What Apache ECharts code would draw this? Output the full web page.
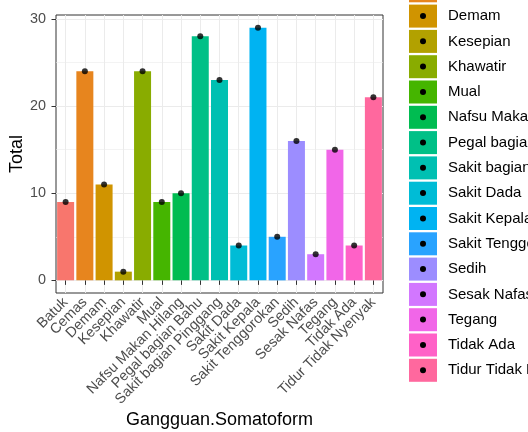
<!DOCTYPE html>
<html>
<head>
<meta charset="utf-8">
<script src="https://cdn.jsdelivr.net/npm/echarts@6/dist/echarts.min.js"></script>
<style>
  html, body { margin: 0; padding: 0; background: #fff; }
  #chart { width: 528px; height: 432px; }
</style>
</head>
<body>
<div id="chart"></div>
<script>
// data
const categories = ['Batuk', 'Cemas', 'Demam', 'Kesepian', 'Khawatir', 'Mual',
    'Nafsu Makan Hilang', 'Pegal bagian Bahu', 'Sakit bagian Pinggang', 'Sakit Dada',
    'Sakit Kepala', 'Sakit Tenggorokan', 'Sedih', 'Sesak Nafas', 'Tegang', 'Tidak Ada',
    'Tidur Tidak Nyenyak'];
const totals = [9, 24, 11, 1, 24, 9, 10, 28, 23, 4, 29, 5, 16, 3, 15, 4, 21];
const yTicks = [0, 10, 20, 30];
const yMinor = [5, 15, 25];

// ggplot default hue palette (hcl, c=100, l=65)
function hcl(h, c, l) {
    const d = Math.PI / 180;
    const U = c * Math.cos(h * d), V = c * Math.sin(h * d);
    const Xn = 95.047, Yn = 100, Zn = 108.883;
    const Y = l > 8 ? Yn * Math.pow((l + 16) / 116, 3) : Yn * l / 903.3;
    const den = Xn + 15 * Yn + 3 * Zn;
    const up = U / (13 * l) + 4 * Xn / den, vp = V / (13 * l) + 9 * Yn / den;
    const X = 9 * Y * up / (4 * vp);
    const Z = -X / 3 - 5 * Y + 3 * Y / vp;
    const x = X / 100, y = Y / 100, z = Z / 100;
    const lin = [
        3.240479 * x - 1.537150 * y - 0.498535 * z,
        -0.969256 * x + 1.875992 * y + 0.041556 * z,
        0.055648 * x - 0.204043 * y + 1.057311 * z
    ];
    return '#' + lin.map(function (v) {
        v = v <= 0.0031308 ? 12.92 * v : 1.055 * Math.pow(v, 1 / 2.4) - 0.055;
        v = Math.round(Math.max(0, Math.min(1, v)) * 255);
        return (v < 16 ? '0' : '') + v.toString(16);
    }).join('');
}
const n = categories.length;
const palette = categories.map((c, i) => hcl(15 + 360 * i / n, 100, 65));

const FONT = 'Liberation Sans';
const GRID_COL = '#EBEBEB';

let series = categories.map(function (name, i) {
    return {
        type: 'bar',
        name: name,
        stack: 'total',
        barWidth: 17,
        itemStyle: {color: palette[i]},
        data: categories.map((c, j) => j === i ? totals[i] : '-')
    };
});

// grid lines (ggplot style: at category centres, plus minor ones)
let gridLines = categories.map(c => ({xAxis: c, lineStyle: {width: 1}}))
    .concat(yTicks.map(v => ({yAxis: v, lineStyle: {width: 1}})))
    .concat(yMinor.map(v => ({yAxis: v, lineStyle: {width: 0.6}})));

series.push({
    type: 'line',
    name: 'gridlines',
    data: [],
    silent: true,
    markLine: {
        silent: true,
        symbol: 'none',
        z: 0,
        animation: false,
        label: {show: false},
        lineStyle: {type: 'solid', color: GRID_COL},
        emphasis: {disabled: true},
        data: gridLines
    }
});

series.push({
    type: 'scatter',
    name: 'titik',
    z: 10,
    symbolSize: 6,
    itemStyle: {color: '#000'},
    data: totals
});

const chart = echarts.init(document.getElementById('chart'), null, {renderer: 'canvas'});

chart.setOption({
    animation: false,
    backgroundColor: '#fff',
    textStyle: {fontFamily: FONT},
    grid: {
        left: 56, right: 145, top: 15, bottom: 139,
        containLabel: false,
        outerBoundsMode: 'none',
        show: true, backgroundColor: '#fff',
        borderColor: '#333333', borderWidth: 1
    },
    legend: [{
        orient: 'vertical',
        left: 409,
        top: -46,
        padding: 0,
        itemWidth: 28,
        itemHeight: 23,
        itemGap: 2.3,
        icon: 'rect',
        selectedMode: false,
        textStyle: {fontFamily: FONT, fontSize: 15, color: '#000', padding: [0, 0, 0, 6]},
        data: categories
    }, {
        orient: 'vertical',
        left: 420,
        top: -37.6,
        padding: 0,
        itemWidth: 6,
        itemHeight: 6,
        itemGap: 19.3,
        icon: 'circle',
        selectedMode: false,
        formatter: () => '',
        data: categories.map(c => ({name: c, itemStyle: {color: '#000'}}))
    }],
    xAxis: {
        type: 'category',
        data: categories,
        boundaryGap: true,
        name: 'Gangguan.Somatoform',
        nameLocation: 'middle',
        nameGap: 118,
        nameMoveOverlap: false,
        nameTextStyle: {fontFamily: FONT, fontSize: 18, color: '#000'},
        axisLine: {show: false},
        axisTick: {show: true, alignWithLabel: true, length: 4.5,
            lineStyle: {color: '#333333'}},
        axisLabel: {interval: 0, rotate: 45, margin: 7,
            fontFamily: FONT, fontSize: 14.4, color: '#4D4D4D'},
        splitLine: {show: false}
    },
    yAxis: {
        type: 'value',
        min: -1.45,
        max: 30.45,
        name: 'Total',
        nameLocation: 'middle',
        nameGap: 30,
        nameMoveOverlap: false,
        nameTextStyle: {fontFamily: FONT, fontSize: 18, color: '#000'},
        axisLine: {show: false},
        axisTick: {show: true, length: 4.5, customValues: yTicks,
            lineStyle: {color: '#333333'}},
        axisLabel: {customValues: yTicks, margin: 10,
            fontFamily: FONT, fontSize: 14.4, color: '#4D4D4D'},
        splitLine: {show: false}
    },
    series: series
});
</script>
</body>
</html>
